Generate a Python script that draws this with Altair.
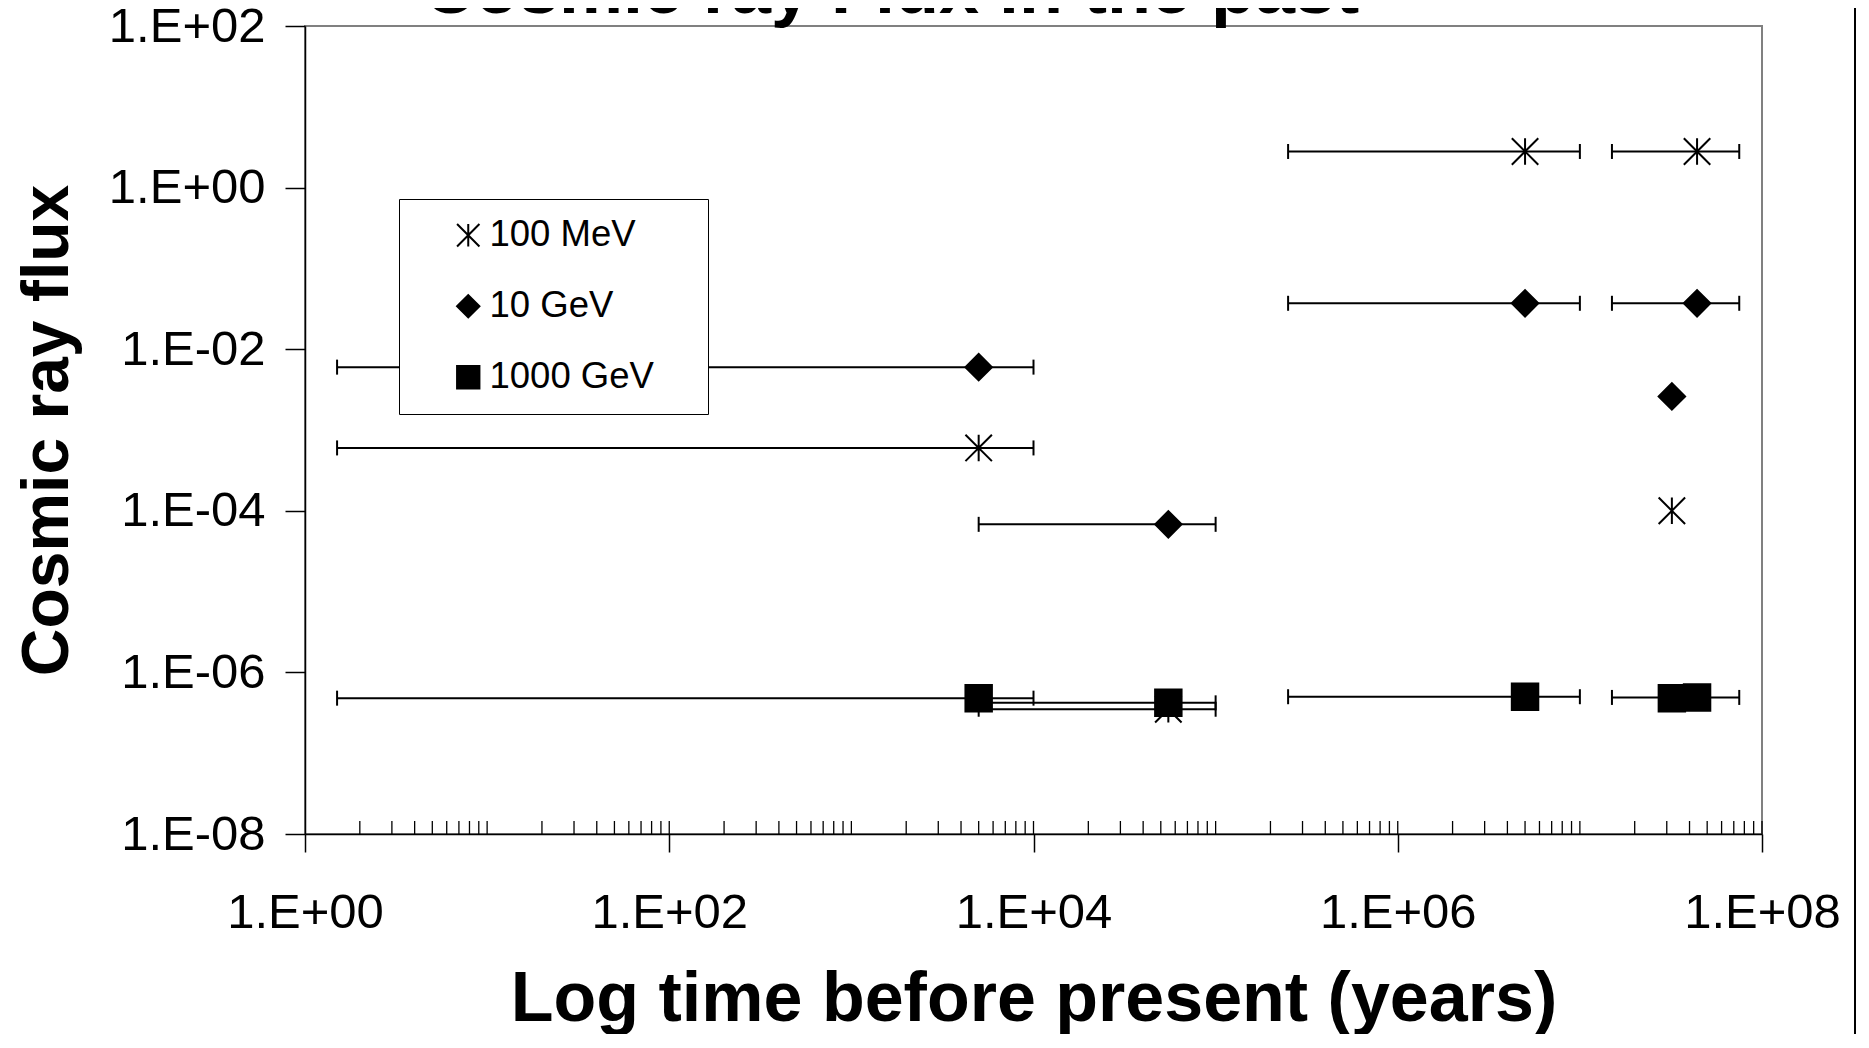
import altair as alt
import pandas as pd

FONT = "Liberation Sans"

# ---- data ----
series = ["100 MeV", "10 GeV", "1000 GeV"]
times = [5e3, 5.5e4, 5e6, 4.4e7, 3.2e7]
time_lo = [1.5, 5e3, 2.5e5, 1.5e7, None]
time_hi = [1e4, 1e5, 1e7, 7.5e7, None]
flux_100mev = [6e-4, 3.5e-7, 2.8, 2.8, 1e-4]
flux_10gev = [6e-3, 6.8e-5, 3.7e-2, 3.7e-2, 2.6e-3]
flux_1000gev = [4.8e-7, 4.2e-7, 5e-7, 4.9e-7, 4.8e-7]
x_ticks = [1, 1e2, 1e4, 1e6, 1e8]
y_ticks = [1e-8, 1e-6, 1e-4, 1e-2, 1, 1e2]
minor_ticks = [m * 10 ** k for k in range(8) for m in range(2, 11)]
chart_title = "Cosmic ray Flux in the past"

rows = []
for name, vals in zip(series, [flux_100mev, flux_10gev, flux_1000gev]):
    for t, lo, hi, v in zip(times, time_lo, time_hi, vals):
        rows.append({"series": name, "time": t, "lo": lo, "hi": hi, "flux": v})
df = pd.DataFrame(rows)
bars = df.dropna(subset=["lo"]).reset_index(drop=True)
minor_df = pd.DataFrame({"minor": minor_ticks})
title_df = pd.DataFrame({"title": [chart_title]})
frame_df = pd.DataFrame({"a": [0]})

W, H = 1457, 808
ASTERISK = "M0,-1L0,1M-1,-1L1,1M-1,1L1,-1"
LBL = ("'1.E' + (round(log(datum.value)/LN10) < 0 ? '-' : '+') + "
       "(abs(round(log(datum.value)/LN10)) < 10 ? '0' : '') + abs(round(log(datum.value)/LN10))")

xscale = alt.Scale(type="log", domain=[1, 1e8], nice=False)
yscale = alt.Scale(type="log", domain=[1e-8, 1e2], nice=False)

x_axis = alt.Axis(values=x_ticks, labelExpr=LBL, tickSize=18, labelPadding=36,
                  labelFontSize=49, titleFontSize=70, titleFontWeight="bold",
                  titleY=186, titleBaseline="alphabetic", labelFlush=False,
                  labelOverlap=False)
y_axis = alt.Axis(values=y_ticks, labelExpr=LBL, tickSize=20, labelPadding=20,
                  labelFontSize=49, titleFontSize=66, titleFontWeight="bold",
                  titleX=-258, titleY=H / 2, titleBaseline="middle", titleAngle=270,
                  labelFlush=False, labelOverlap=False)

XT = "Log time before present (years)"
YT = "Cosmic ray flux"

# invisible title on the right only widens the legend box to match the reference
legend = alt.Legend(orient="none", legendX=94, legendY=173,
                    title=".", titleOpacity=0, titleOrient="right", titlePadding=33,
                    titleFontSize=8,
                    labelFontSize=36.5, labelFont=FONT, labelColor="black",
                    padding=18, rowPadding=34, strokeColor="black", fillColor="white",
                    symbolSize=500, symbolStrokeWidth=2, symbolStrokeColor="black",
                    symbolOpacity=1, symbolOffset=33, labelOffset=3, labelLimit=500)

rules = alt.Chart(bars).mark_rule(color="black", strokeWidth=2).encode(
    x=alt.X("lo:Q", scale=xscale, axis=x_axis, title=XT),
    x2="hi:Q",
    y=alt.Y("flux:Q", scale=yscale, axis=y_axis, title=YT),
)
caps_lo = alt.Chart(bars).mark_tick(orient="vertical", size=15, thickness=2, color="black", opacity=1).encode(
    x=alt.X("lo:Q", scale=xscale, axis=x_axis, title=XT),
    y=alt.Y("flux:Q", scale=yscale, axis=y_axis, title=YT),
)
caps_hi = alt.Chart(bars).mark_tick(orient="vertical", size=15, thickness=2, color="black", opacity=1).encode(
    x=alt.X("hi:Q", scale=xscale, axis=x_axis, title=XT),
    y=alt.Y("flux:Q", scale=yscale, axis=y_axis, title=YT),
)
points = alt.Chart(df).mark_point(filled=True, strokeWidth=2, size=700, opacity=1).encode(
    x=alt.X("time:Q", scale=xscale, axis=x_axis, title=XT),
    y=alt.Y("flux:Q", scale=yscale, axis=y_axis, title=YT),
    shape=alt.Shape("series:N", scale=alt.Scale(domain=series, range=[ASTERISK, "diamond", "square"]), legend=legend),
    fill=alt.Fill("series:N", scale=alt.Scale(domain=series, range=["transparent", "black", "black"]), legend=legend),
    stroke=alt.Stroke("series:N", scale=alt.Scale(domain=series, range=["black", "black", "black"]), legend=legend),
)
minor = alt.Chart(minor_df).mark_rule(color="black", strokeWidth=1.3).encode(
    x=alt.X("minor:Q", scale=xscale, axis=x_axis, title=XT),
    y=alt.value(H), y2=alt.value(H - 13),
)
frame = alt.Chart(frame_df).mark_rule(color="black", strokeWidth=2).encode(
    x=alt.value(1550), y=alt.value(-40), y2=alt.value(1030),
)
title = alt.Chart(title_df).mark_text(font=FONT, fontSize=72, fontWeight="bold", color="black",
                                      align="center", baseline="alphabetic").encode(
    text="title:N", x=alt.value(586), y=alt.value(-13),
)

chart = alt.layer(minor, rules, caps_lo, caps_hi, points, frame, title).properties(
    width=W, height=H,
    autosize=alt.AutoSizeParams(type="none"),
    padding={"left": 297, "top": 18, "right": 96, "bottom": 200},
).configure_view(stroke="#808080", strokeWidth=2).configure_axis(
    grid=False, domainColor="black", domainWidth=1.5, tickColor="black", tickWidth=1.5,
    labelColor="black", titleColor="black", labelFont=FONT, titleFont=FONT,
)

chart.save("out.html", embed_options={"renderer": "svg", "actions": False})
